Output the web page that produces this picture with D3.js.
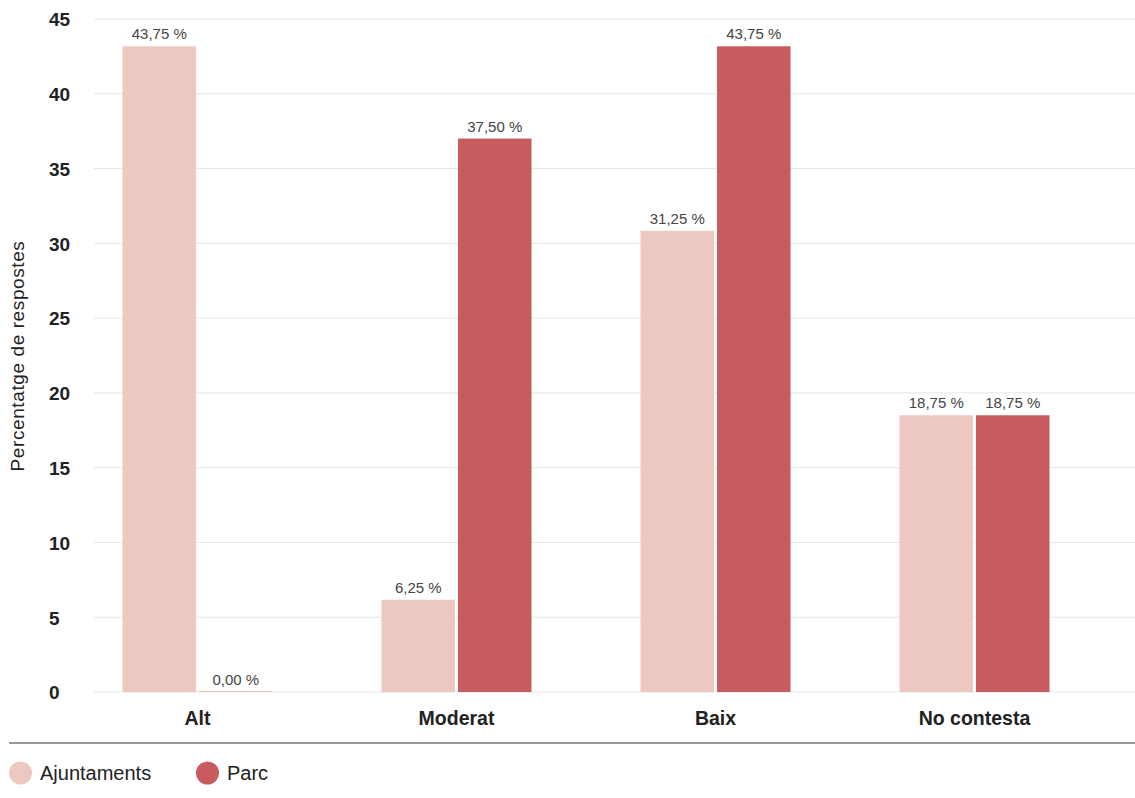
<!DOCTYPE html>
<html><head><meta charset="utf-8">
<script src="https://cdn.jsdelivr.net/npm/d3@7"></script>
<style>body{margin:0;background:#fff}svg{display:block;font-family:"Liberation Sans",Arial,sans-serif}</style>
</head><body>
<svg id="c" width="1135" height="798"></svg>
<script>
const categories = ["Alt", "Moderat", "Baix", "No contesta"];
const seriesNames = ["Ajuntaments", "Parc"];
const ajuntaments = [43.75, 6.25, 31.25, 18.75];
const parc = [0.00, 37.50, 43.75, 18.75];
const yTicks = [0, 5, 10, 15, 20, 25, 30, 35, 40, 45];
const colors = ["#edc8c1", "#c75b60"];

const svg = d3.select("#c");
const y = d3.scaleLinear().domain([0, 45]).range([692, 19]);
// bar heights in the reference sit on a slightly compressed scale
const yBar = d3.scaleLinear().domain([0, 45.6]).range([692, 19]);
const x0 = d3.scaleBand().domain(categories).range([68, 1104]);
const x1 = d3.scaleBand().domain(seriesNames).range([0, 150]).paddingInner(0.04);
const fmt = v => v.toFixed(2).replace(".", ",") + " %";

// gridlines
svg.append("g").selectAll("line").data(yTicks).join("line")
  .attr("x1", 94).attr("x2", 1135)
  .attr("y1", d => y(d)).attr("y2", d => y(d))
  .attr("stroke", "#e6e6e6").attr("stroke-width", 1);

// y axis labels (left aligned)
const yAxis = d3.axisLeft(y).tickValues(yTicks).tickSize(0).tickPadding(0);
const ya = svg.append("g").attr("transform", "translate(49,0)").call(yAxis);
ya.select(".domain").remove();
ya.selectAll("text").attr("text-anchor", "start").attr("dy", "0.36em")
  .attr("font-size", 19).attr("font-weight", "bold").attr("fill", "#222")
  .attr("font-family", "Liberation Sans, Arial, sans-serif");

// y title
svg.append("text").attr("transform", "translate(24,356) rotate(-90)")
  .attr("text-anchor", "middle").attr("font-size", 19).attr("letter-spacing", 0.6).attr("fill", "#222")
  .text("Percentatge de respostes");

const rows = categories.map((c, i) => ({c, vals: [ajuntaments[i], parc[i]]}));
const g = svg.append("g").selectAll("g").data(rows).join("g")
  .attr("transform", d => `translate(${x0(d.c) + (x0.bandwidth() - 150) / 2},0)`);
g.selectAll("rect").data(d => d.vals.map((v, k) => ({v, k}))).join("rect")
  .attr("x", d => x1(seriesNames[d.k])).attr("width", x1.bandwidth())
  .attr("y", d => Math.min(yBar(d.v), yBar(0) - 1))
  .attr("height", d => Math.max(yBar(0) - yBar(d.v), 1))
  .attr("fill", d => d.v === 0 ? colors[0] : colors[d.k]);
g.selectAll("text").data(d => d.vals.map((v, k) => ({v, k}))).join("text")
  .attr("x", d => x1(seriesNames[d.k]) + x1.bandwidth() / 2)
  .attr("y", d => yBar(d.v) - 7)
  .attr("text-anchor", "middle").attr("font-size", 15).attr("fill", "#444")
  .text(d => fmt(d.v));

// x axis labels
const xAxis = d3.axisBottom(x0).tickSize(0).tickPadding(0);
const xa = svg.append("g").attr("transform", "translate(0,725)").call(xAxis);
xa.select(".domain").remove();
xa.selectAll("text").attr("dy", 0).attr("font-size", 19.5).attr("font-weight", "bold").attr("fill", "#222")
  .attr("font-family", "Liberation Sans, Arial, sans-serif");

// separator line
svg.append("line").attr("x1", 9).attr("x2", 1135).attr("y1", 743).attr("y2", 743)
  .attr("stroke", "#333").attr("stroke-width", 1.2);

// legend
const legX = [20.5, 207.5];
const lg = svg.append("g").selectAll("g").data(seriesNames).join("g")
  .attr("transform", (d, i) => `translate(${legX[i]},773)`);
lg.append("circle").attr("r", 11.5).attr("fill", (d, i) => colors[i]);
lg.append("text").attr("x", 19.5).attr("dy", "0.36em").attr("font-size", 20).attr("fill", "#222").text(d => d);
</script>
</body></html>
